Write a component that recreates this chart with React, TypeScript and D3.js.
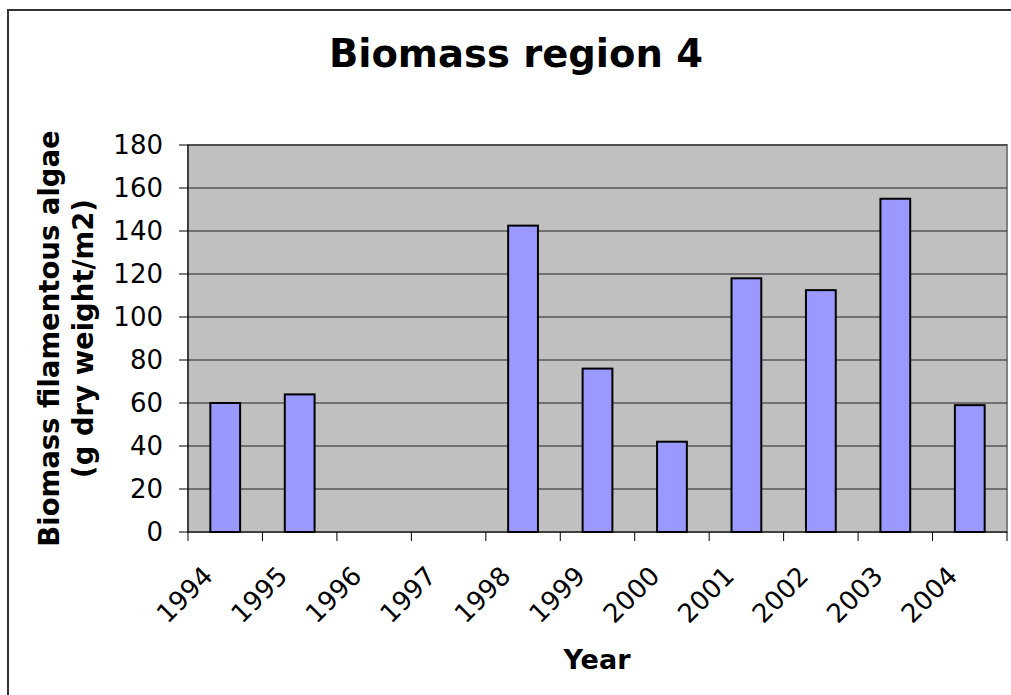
import React from "react";
import * as d3 from "d3";

const years = ["1994", "1995", "1996", "1997", "1998", "1999", "2000", "2001", "2002", "2003", "2004"];
const biomass: (number | null)[] = [60, 64, null, null, 142.5, 76, 42, 118, 112.5, 155, 59];
const yTicks = [0, 20, 40, 60, 80, 100, 120, 140, 160, 180];

const W = 1011;
const H = 695;
const plot = { left: 188, right: 1007, top: 145, bottom: 532 };
const FONT = "'DejaVu Sans', Verdana, sans-serif";

export default function App() {
  const x = d3
    .scaleBand<string>()
    .domain(years)
    .range([plot.left, plot.right])
    .paddingInner(0.6)
    .paddingOuter(0.3);
  const step = x.step();
  const tickX = (i: number) => plot.left + i * step;
  const y = d3.scaleLinear().domain([0, 180]).range([plot.bottom, plot.top]);

  return (
    <svg
      width={W}
      height={H}
      style={{ position: "absolute", left: 0, top: 0, background: "#fff" }}
      fontFamily={FONT}
    >
      {/* chart area border */}
      <rect x={8} y={10} width={W + 20} height={H + 20} fill="#fff" stroke="#333" strokeWidth={2} />
      {/* title */}
      <text x={516} y={67} textAnchor="middle" fontSize={38.5} fontWeight="bold" fill="#000">
        Biomass region 4
      </text>
      {/* plot area */}
      <rect
        x={plot.left}
        y={plot.top}
        width={plot.right - plot.left}
        height={plot.bottom - plot.top}
        fill="#C0C0C0"
        stroke="#808080"
        strokeWidth={2}
      />
      {/* gridlines */}
      {yTicks.slice(1).map((t) => (
        <line key={"g" + t} x1={plot.left} x2={plot.right} y1={y(t)} y2={y(t)} stroke="#222" strokeWidth={1} />
      ))}
      {/* bars */}
      {years.map((yr, i) =>
        biomass[i] == null ? null : (
          <rect
            key={"b" + yr}
            x={x(yr)!}
            y={y(biomass[i] as number)}
            width={x.bandwidth()}
            height={plot.bottom - y(biomass[i] as number)}
            fill="#9999FF"
            stroke="#000"
            strokeWidth={2}
          />
        )
      )}
      {/* axes */}
      <line x1={plot.left} x2={plot.left} y1={plot.top} y2={plot.bottom} stroke="#000" strokeWidth={1} />
      <line x1={plot.left} x2={plot.right} y1={plot.bottom} y2={plot.bottom} stroke="#000" strokeWidth={1} />
      {yTicks.map((t) => (
        <g key={"yt" + t}>
          <line x1={plot.left - 9} x2={plot.left} y1={y(t)} y2={y(t)} stroke="#000" strokeWidth={1} />
          <text x={163} y={y(t)} dy="0.36em" textAnchor="end" fontSize={26} fill="#000">
            {t}
          </text>
        </g>
      ))}
      {years.map((yr, i) => (
        <line key={"xt" + yr} x1={tickX(i)} x2={tickX(i)} y1={plot.bottom} y2={plot.bottom + 9} stroke="#000" strokeWidth={1} />
      ))}
      <line x1={tickX(years.length)} x2={tickX(years.length)} y1={plot.bottom} y2={plot.bottom + 9} stroke="#000" strokeWidth={1} />
      {years.map((yr, i) => (
        <text
          key={"xl" + yr}
          transform={`translate(${tickX(i) + 3},${601}) rotate(-45)`}
          textAnchor="middle"
          fontSize={26}
          fill="#000"
        >
          {yr}
        </text>
      ))}
      {/* axis titles */}
      <text x={597} y={669} textAnchor="middle" fontSize={27} fontWeight="bold" fill="#000">
        Year
      </text>
      <g transform={`translate(0,${(plot.top + plot.bottom) / 2})`}>
        <text transform="translate(59,0) rotate(-90)" textAnchor="middle" fontSize={27.5} fontWeight="bold" fill="#000">
          Biomass filamentous algae
        </text>
        <text transform="translate(93,0) rotate(-90)" textAnchor="middle" fontSize={27.5} fontWeight="bold" fill="#000">
          (g dry weight/m2)
        </text>
      </g>
    </svg>
  );
}
